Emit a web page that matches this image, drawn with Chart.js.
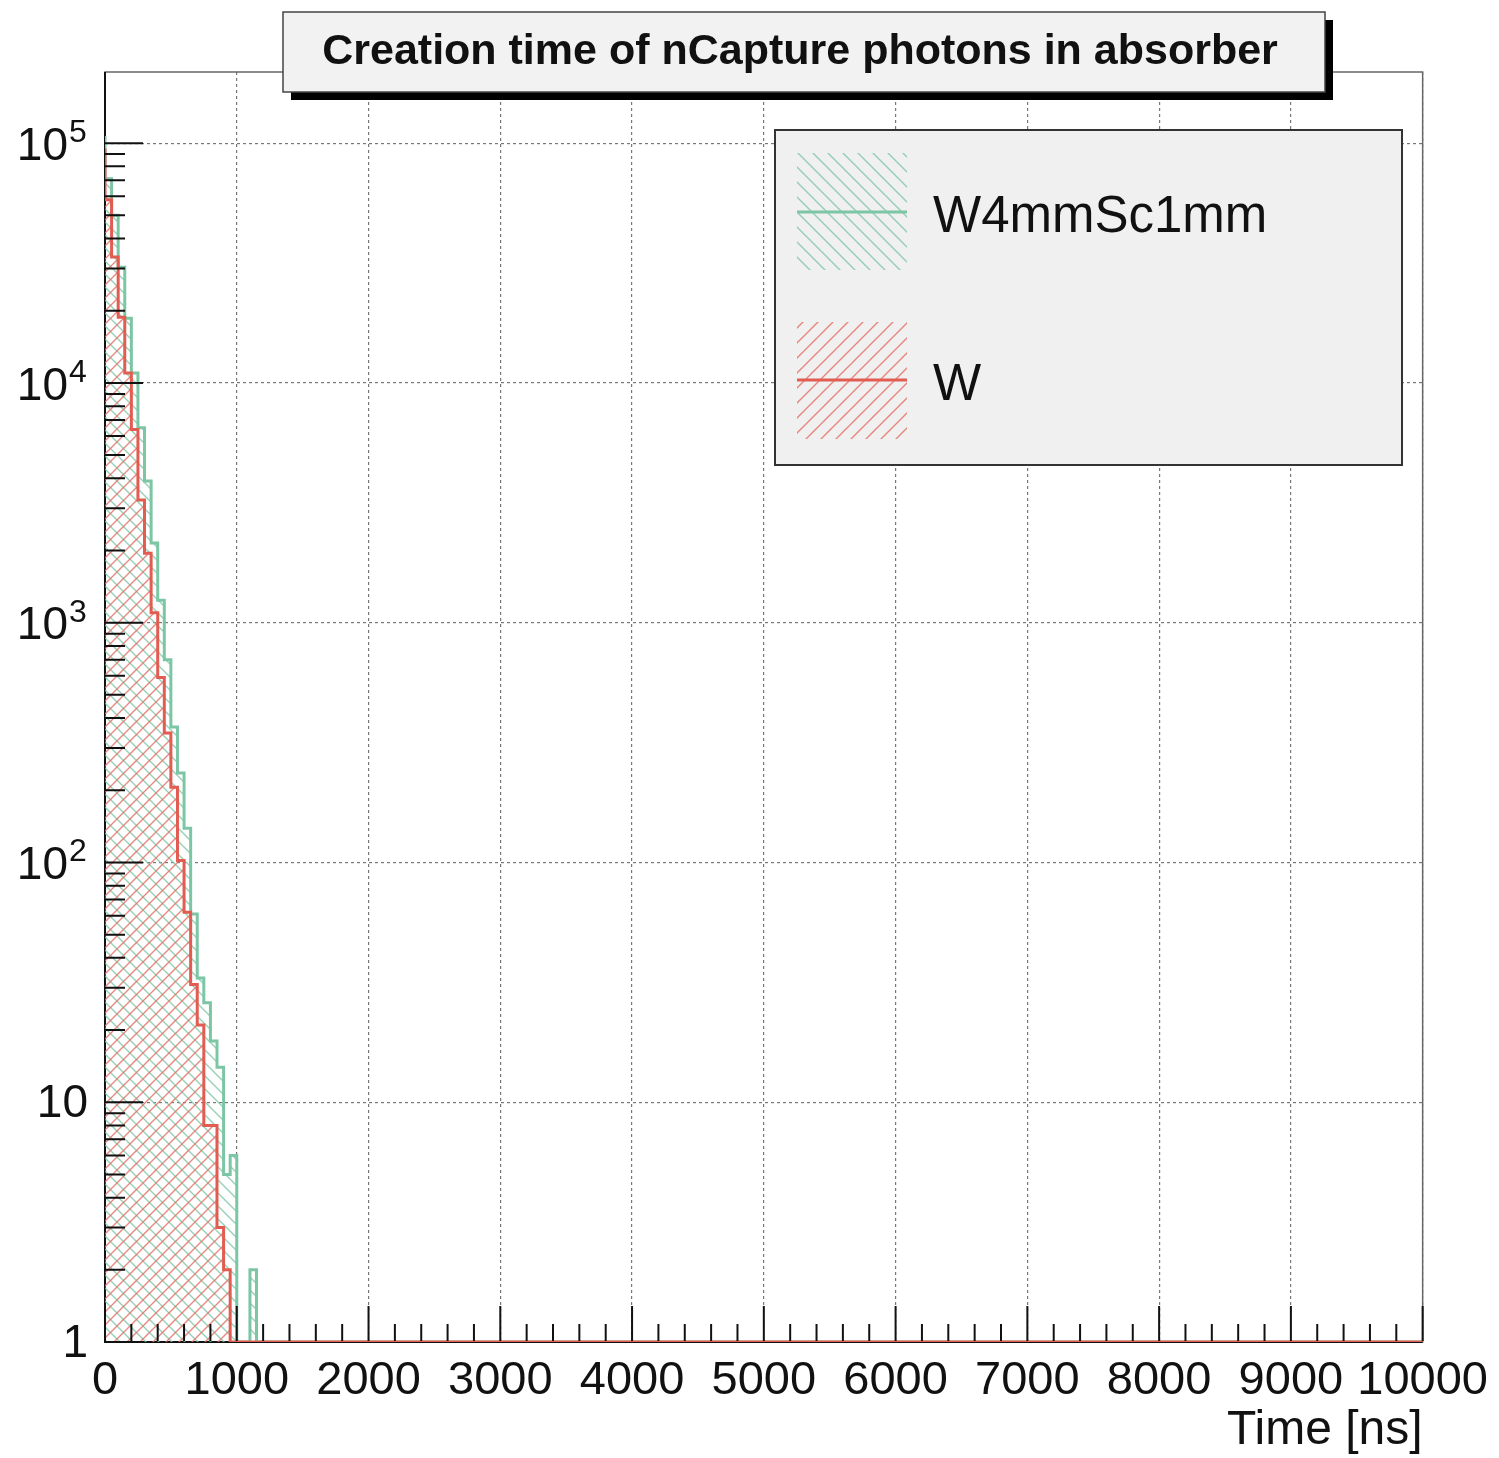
<!DOCTYPE html>
<html>
<head>
<meta charset="utf-8">
<title>Creation time of nCapture photons in absorber</title>
<script src="https://cdn.jsdelivr.net/npm/chart.js@4.4.1/dist/chart.umd.min.js"></script>
<style>
  html, body { margin: 0; padding: 0; background: #fff; }
  #wrap { width: 1499px; height: 1458px; }
</style>
</head>
<body>
<div id="wrap"><canvas id="timeChart" width="1499" height="1458"></canvas></div>
<script>
// histogram range, ns (50 ns bins, bins after the listed ones are empty)
const binWidth = 50;
const xMin = 0;
const xMax = 10000;
const yMin = 1;
const yMax = 1.98e5;

// entries per bin, starting at 0 ns
const countsW4mmSc1mm = [107000, 71000, 50000, 30400, 18600, 11000, 6500, 3900, 2150, 1240,
                         700, 367, 236, 139, 61, 33, 26, 18, 14, 5, 6, 0, 0, 2, 0];
const countsW = [95000, 58000, 33500, 18800, 11000, 6400, 3250, 1950, 1100, 590,
                 347, 206, 102, 62, 31, 21, 8, 8, 3, 2, 0, 0, 0, 0, 0];

const xTicks = [0, 1000, 2000, 3000, 4000, 5000, 6000, 7000, 8000, 9000, 10000];
const xMinorStep = 200;
const yDecades = [1, 10, 100, 1000, 10000, 100000];
const yExponents = [null, null, '2', '3', '4', '5'];

const greenLine = 'rgb(124, 198, 166)';
const redLine = 'rgb(226, 92, 82)';

// ROOT draws empty bins on the bottom of a log axis
function histPoints(counts) {
    const pts = counts.map((c, i) => ({ x: xMin + i * binWidth, y: Math.max(c, yMin) }));
    pts.push({ x: xMax, y: yMin });
    return pts;
}

function hatch(color, dir, s) {
    const c = document.createElement('canvas');
    c.width = s; c.height = s;
    const g = c.getContext('2d');
    g.strokeStyle = color;
    g.lineWidth = 1.4;
    g.beginPath();
    if (dir === '/') {
        g.moveTo(-2, s + 2); g.lineTo(s + 2, -2);
        g.moveTo(-2, 2); g.lineTo(2, -2);
        g.moveTo(s - 2, s + 2); g.lineTo(s + 2, s - 2);
    } else {
        g.moveTo(-2, -2); g.lineTo(s + 2, s + 2);
        g.moveTo(s - 2, -2); g.lineTo(s + 2, 2);
        g.moveTo(-2, s - 2); g.lineTo(2, s + 2);
    }
    g.stroke();
    return g.createPattern(c, 'repeat');
}

const greenHatch = hatch('rgba(124, 198, 166, 0.8)', '\\', 13);
const redHatch = hatch('rgba(228, 115, 105, 0.85)', '/', 13);
const greenKey = hatch('rgba(124, 198, 166, 0.8)', '\\', 15);
const redKey = hatch('rgba(228, 115, 105, 0.85)', '/', 15);

const rootFrame = {
    id: 'rootFrame',
    beforeDatasetsDraw(chart) {
        const ctx = chart.ctx;
        const a = chart.chartArea;
        ctx.save();
        ctx.strokeStyle = '#666';
        ctx.lineWidth = 1.5;
        ctx.strokeRect(a.left, a.top, a.right - a.left, a.bottom - a.top);
        ctx.strokeStyle = '#111';
        ctx.lineWidth = 2;
        ctx.beginPath();
        ctx.moveTo(a.left, a.top); ctx.lineTo(a.left, a.bottom); ctx.lineTo(a.right, a.bottom);
        ctx.stroke();
        ctx.restore();
    },
    afterDraw(chart) {
        const ctx = chart.ctx;
        const a = chart.chartArea;
        const xs = chart.scales.x;
        const ys = chart.scales.y;
        ctx.save();

        // inward ticks, x
        ctx.strokeStyle = '#111';
        ctx.lineWidth = 2;
        ctx.beginPath();
        for (let v = xMin; v <= xMax; v += xMinorStep) {
            const px = xs.getPixelForValue(v);
            const len = v % 1000 === 0 ? 36 : 18;
            ctx.moveTo(px, a.bottom - 1); ctx.lineTo(px, a.bottom - len);
        }
        // inward ticks, y
        yDecades.forEach(d => {
            for (let m = 1; m <= 9; m++) {
                const v = m * d;
                if (v > ys.max) break;
                const py = ys.getPixelForValue(v);
                const len = m === 1 ? 38 : 20;
                ctx.moveTo(a.left, py); ctx.lineTo(a.left + len, py);
            }
        });
        ctx.stroke();

        // y labels with exponents
        ctx.fillStyle = '#111';
        yDecades.forEach((d, i) => {
            const py = ys.getPixelForValue(d);
            ctx.textBaseline = 'middle';
            ctx.font = '46px "Liberation Sans", Arial, sans-serif';
            if (yExponents[i] === null) {
                ctx.textAlign = 'right';
                ctx.fillText(String(d), 88, py + 2);
            } else {
                ctx.textAlign = 'right';
                ctx.fillText('10', 68, py + 4);
                ctx.textAlign = 'left';
                ctx.textBaseline = 'alphabetic';
                ctx.font = '32px "Liberation Sans", Arial, sans-serif';
                ctx.fillText(yExponents[i], 69, py - 1);
            }
        });

        // axis title
        ctx.font = '48px "Liberation Sans", Arial, sans-serif';
        ctx.textAlign = 'right';
        ctx.textBaseline = 'alphabetic';
        ctx.fillText('Time [ns]', a.right, 1444);

        // title box with shadow
        ctx.fillStyle = '#000';
        ctx.fillRect(291, 20, 1042, 80);
        ctx.fillStyle = '#f2f2f2';
        ctx.fillRect(283, 12, 1042, 80);
        ctx.strokeStyle = '#444';
        ctx.lineWidth = 1.5;
        ctx.strokeRect(283, 12, 1042, 80);
        ctx.fillStyle = '#111';
        ctx.font = 'bold 43px "Liberation Sans", Arial, sans-serif';
        ctx.textAlign = 'center';
        ctx.fillText('Creation time of nCapture photons in absorber', 800, 64);

        // legend
        ctx.fillStyle = '#f0f0f0';
        ctx.fillRect(775, 130, 627, 335);
        ctx.strokeStyle = '#333';
        ctx.lineWidth = 2;
        ctx.strokeRect(775, 130, 627, 335);
        const entries = [
            { label: 'W4mmSc1mm', fill: greenKey, line: greenLine, top: 153, mid: 212 },
            { label: 'W', fill: redKey, line: redLine, top: 322, mid: 380 }
        ];
        entries.forEach(e => {
            ctx.fillStyle = e.fill;
            ctx.fillRect(797, e.top, 110, 117);
            ctx.strokeStyle = e.line;
            ctx.lineWidth = 3;
            ctx.beginPath();
            ctx.moveTo(797, e.mid); ctx.lineTo(907, e.mid);
            ctx.stroke();
            ctx.fillStyle = '#111';
            ctx.font = '51px "Liberation Sans", Arial, sans-serif';
            ctx.textAlign = 'left';
            ctx.textBaseline = 'alphabetic';
            ctx.fillText(e.label, 933, e.mid + 20);
        });
        ctx.restore();
    }
};

Chart.defaults.font.family = '"Liberation Sans", Arial, Helvetica, sans-serif';

const timeCtx = document.getElementById('timeChart').getContext('2d');
const timeChart = new Chart(timeCtx, {
    type: 'line',
    data: {
        datasets: [{
            label: 'W',
            data: histPoints(countsW),
            stepped: 'after',
            borderColor: redLine,
            borderWidth: 3,
            backgroundColor: redHatch,
            fill: 'start',
            pointRadius: 0
        }, {
            label: 'W4mmSc1mm',
            data: histPoints(countsW4mmSc1mm),
            stepped: 'after',
            borderColor: greenLine,
            borderWidth: 3,
            backgroundColor: greenHatch,
            fill: 'start',
            pointRadius: 0
        }]
    },
    options: {
        responsive: false,
        animation: false,
        layout: { padding: { top: 72, right: 76, left: 0, bottom: 0 } },
        plugins: {
            legend: { display: false },
            title: { display: false },
            tooltip: { enabled: false }
        },
        scales: {
            x: {
                type: 'linear',
                min: xMin,
                max: xMax,
                afterFit(s) { s.height = 116; },
                afterBuildTicks(s) { s.ticks = xTicks.map(v => ({ value: v })); },
                ticks: {
                    autoSkip: false,
                    maxRotation: 0,
                    padding: 11,
                    color: '#111',
                    font: { size: 47 },
                    callback: v => String(v)
                },
                grid: { color: '#777', lineWidth: 1.2, drawTicks: false },
                border: { display: false, dash: [3, 3] }
            },
            y: {
                type: 'logarithmic',
                min: yMin,
                max: yMax,
                afterFit(s) { s.width = 105; },
                afterBuildTicks(s) { s.ticks = yDecades.map(v => ({ value: v, major: true })); },
                ticks: { display: false },
                grid: { color: '#777', lineWidth: 1.2, drawTicks: false },
                border: { display: false, dash: [3, 3] }
            }
        }
    },
    plugins: [rootFrame]
});
</script>
</body>
</html>
